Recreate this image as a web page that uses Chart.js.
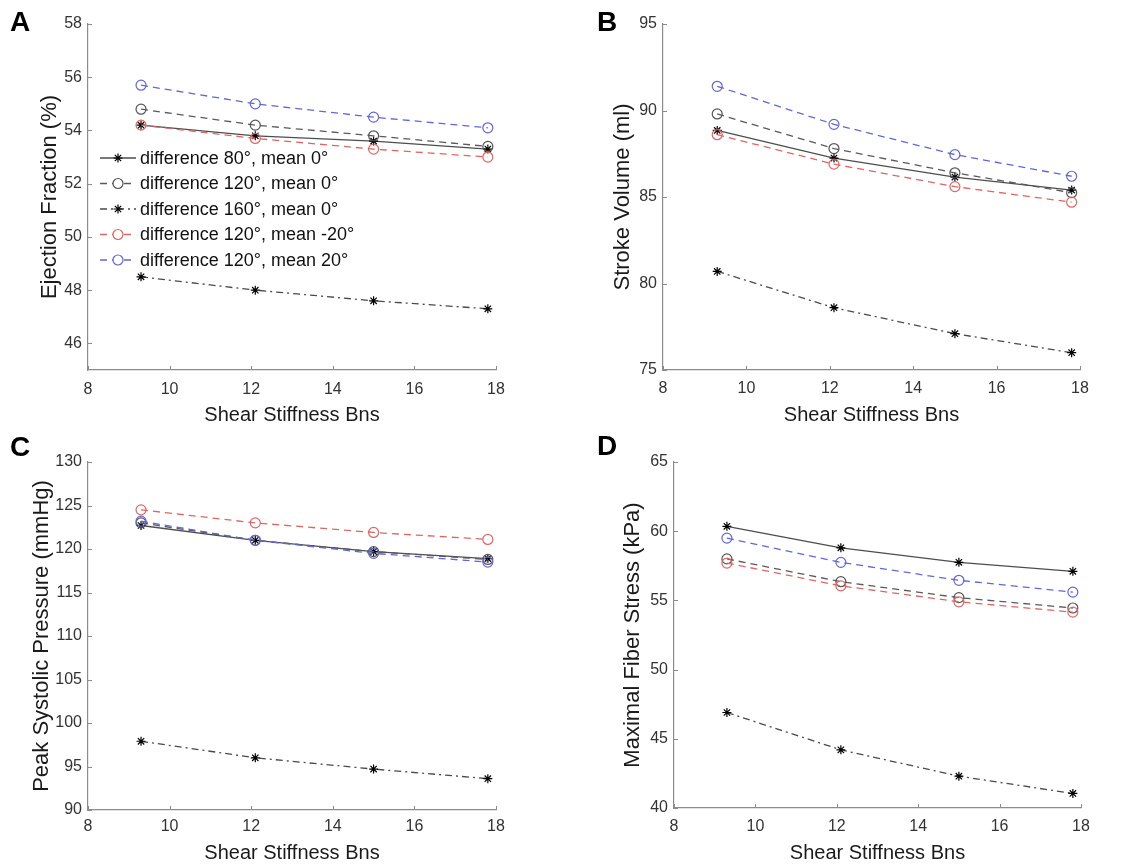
<!DOCTYPE html>
<html lang="en">

<head>
  <meta charset="UTF-8">
  <title>Shear Stiffness Bns</title>
  <script src="https://cdn.jsdelivr.net/npm/chart.js"></script>
  <style>
    body { margin: 0; background: #fff; }
    #figure { position: relative; width: 1147px; height: 866px; overflow: hidden; }
    #figure canvas { position: absolute; }
    .panel-letter {
      position: absolute;
      font: bold 28px "Liberation Sans", Arial, sans-serif;
      line-height: 28px;
      color: #000;
    }
  </style>
</head>

<body>
  <div id="figure">
    <canvas id="chartA" width="573" height="433" style="left:0;top:0"></canvas>
    <canvas id="chartB" width="574" height="433" style="left:573px;top:0"></canvas>
    <canvas id="chartC" width="573" height="433" style="left:0;top:433px"></canvas>
    <canvas id="chartD" width="574" height="433" style="left:573px;top:433px"></canvas>
    <div class="panel-letter" style="left:10px;top:8px">A</div>
    <div class="panel-letter" style="left:597px;top:8px">B</div>
    <div class="panel-letter" style="left:10px;top:433px">C</div>
    <div class="panel-letter" style="left:597px;top:432px">D</div>
  </div>

  <script>
    // shear stiffness values used in the simulations
    const stiffness = [9.3, 12.1, 15.0, 17.8];
    const xTicks = [8, 10, 12, 14, 16, 18];

    const seriesLabels = [
      'difference 80°, mean 0°',
      'difference 120°, mean 0°',
      'difference 160°, mean 0°',
      'difference 120°, mean -20°',
      'difference 120°, mean 20°'
    ];

    // A - ejection fraction (%)
    const efDiff80 = [54.2, 53.8, 53.6, 53.3];
    const efDiff120 = [54.8, 54.2, 53.8, 53.4];
    const efDiff160 = [48.5, 48.0, 47.6, 47.3];
    const efMeanNeg20 = [54.2, 53.7, 53.3, 53.0];
    const efMean20 = [55.7, 55.0, 54.5, 54.1];
    const efRange = [45, 58];
    const efTicks = [46, 48, 50, 52, 54, 56, 58];

    // B - stroke volume (ml)
    const svDiff80 = [88.85, 87.25, 86.15, 85.4];
    const svDiff120 = [89.8, 87.8, 86.4, 85.25];
    const svDiff160 = [80.7, 78.6, 77.1, 76.0];
    const svMeanNeg20 = [88.6, 86.9, 85.6, 84.7];
    const svMean20 = [91.4, 89.2, 87.45, 86.2];
    const svRange = [75, 95];
    const svTicks = [75, 80, 85, 90, 95];

    // C - peak systolic pressure (mmHg)
    const pspDiff80 = [122.7, 121.0, 119.7, 118.9];
    const pspDiff120 = [123.0, 121.0, 119.7, 118.8];
    const pspDiff160 = [97.9, 96.0, 94.7, 93.6];
    const pspMeanNeg20 = [124.5, 123.0, 121.9, 121.1];
    const pspMean20 = [123.2, 121.0, 119.5, 118.5];
    const pspRange = [90, 130];
    const pspTicks = [90, 95, 100, 105, 110, 115, 120, 125, 130];

    // D - maximal fiber stress (kPa)
    const mfsDiff80 = [60.35, 58.8, 57.75, 57.1];
    const mfsDiff120 = [58.0, 56.35, 55.2, 54.45];
    const mfsDiff160 = [46.9, 44.2, 42.3, 41.05];
    const mfsMeanNeg20 = [57.7, 56.05, 54.9, 54.15];
    const mfsMean20 = [59.5, 57.75, 56.45, 55.6];
    const mfsRange = [40, 65];
    const mfsTicks = [40, 45, 50, 55, 60, 65];

    const seriesStyles = [
      { line: '#4d4d4d', marker: '#000000', dash: [], point: 'star', radius: 4.5 },
      { line: '#5a5a5a', marker: '#555555', dash: [7, 5], point: 'circle', radius: 5 },
      { line: '#4a4a4a', marker: '#000000', dash: [7, 4, 2, 4], point: 'star', radius: 4.5 },
      { line: '#e06464', marker: '#e06464', dash: [7, 5], point: 'circle', radius: 5 },
      { line: '#6464dc', marker: '#6464dc', dash: [7, 5], point: 'circle', radius: 5 }
    ];

    const FONT = '"Liberation Sans", Arial, Helvetica, sans-serif';
    const AXIS_GREY = '#8c8c8c';
    const Y_TITLE_SIZE = 22;
    Chart.defaults.font.family = FONT;

    // small inward tick marks like the original plotting tool
    const innerTicks = {
      id: 'innerTicks',
      beforeDatasetsDraw(chart) {
        const { ctx, scales: { x, y } } = chart;
        ctx.save();
        ctx.strokeStyle = AXIS_GREY;
        ctx.lineWidth = 1;
        x.ticks.forEach(t => {
          const px = Math.round(x.getPixelForValue(t.value)) + 0.5;
          ctx.beginPath();
          ctx.moveTo(px, y.bottom);
          ctx.lineTo(px, y.bottom - 4);
          ctx.stroke();
        });
        y.ticks.forEach(t => {
          const py = Math.round(y.getPixelForValue(t.value)) + 0.5;
          ctx.beginPath();
          ctx.moveTo(x.left, py);
          ctx.lineTo(x.left + 4, py);
          ctx.stroke();
        });
        ctx.restore();
      }
    };

    // legend with line + marker samples, drawn inside the plot area
    const lineLegend = {
      id: 'lineLegend',
      afterDatasetsDraw(chart, args, opts) {
        if (!opts.show) return;
        const { ctx } = chart;
        ctx.save();
        chart.data.datasets.forEach((ds, i) => {
          const yy = opts.y + i * opts.rowGap;
          ctx.strokeStyle = ds.borderColor;
          ctx.lineWidth = ds.borderWidth;
          ctx.setLineDash(ds.borderDash || []);
          ctx.beginPath();
          ctx.moveTo(opts.x, yy);
          ctx.lineTo(opts.x + opts.sample, yy);
          ctx.stroke();
          ctx.setLineDash([]);
          ctx.strokeStyle = ds.pointBorderColor;
          ctx.fillStyle = '#fff';
          ctx.lineWidth = ds.pointBorderWidth;
          Chart.helpers.drawPoint(ctx, {
            pointStyle: ds.pointStyle,
            radius: ds.pointRadius,
            rotation: 0,
            borderWidth: ds.pointBorderWidth
          }, opts.x + opts.sample / 2, yy);
          ctx.fillStyle = '#111';
          ctx.font = '18px ' + FONT;
          ctx.textBaseline = 'middle';
          ctx.textAlign = 'left';
          ctx.fillText(ds.label, opts.x + opts.sample + 4, yy + 1);
        });
        ctx.restore();
      }
    };

    function makeDatasets(values) {
      return values.map((vals, i) => {
        const s = seriesStyles[i];
        return {
          label: seriesLabels[i],
          data: stiffness.map((xv, k) => ({ x: xv, y: vals[k] })),
          borderColor: s.line,
          borderWidth: 1.3,
          borderDash: s.dash,
          pointStyle: s.point,
          pointRadius: s.radius,
          pointBorderColor: s.marker,
          pointBackgroundColor: 'rgba(0,0,0,0)',
          pointBorderWidth: 1.2,
          tension: 0,
          fill: false,
          order: values.length - i
        };
      });
    }

    // box = page geometry of the panel (canvas box and plot box)
    function buildPanel(id, box, values, yTitle, yRange, yTicks, legend) {
      return new Chart(document.getElementById(id), {
        type: 'line',
        data: { datasets: makeDatasets(values) },
        plugins: [innerTicks, lineLegend],
        options: {
          responsive: false,
          animation: false,
          events: [],
          layout: {
            padding: {
              left: 0,
              top: box.plotTop - box.top,
              right: box.left + box.w - box.plotRight,
              bottom: 0
            }
          },
          plugins: {
            legend: { display: false },
            tooltip: { enabled: false },
            lineLegend: legend || { show: false }
          },
          scales: {
            x: {
              type: 'linear',
              min: xTicks[0],
              max: xTicks[xTicks.length - 1],
              afterBuildTicks: s => { s.ticks = xTicks.map(v => ({ value: v })); },
              afterFit: s => { s.height = box.top + box.h - box.plotBottom; },
              grid: { display: false, drawTicks: false },
              border: { display: true, color: AXIS_GREY, width: 1.2 },
              ticks: { color: '#333', font: { size: 16 }, padding: box.xLabelY - box.plotBottom - 9.6, maxRotation: 0 },
              title: {
                display: true,
                text: 'Shear Stiffness Bns',
                color: '#1a1a1a',
                font: { size: 20 },
                padding: { top: 0, bottom: box.top + box.h - box.xTitleY - 12 }
              }
            },
            y: {
              type: 'linear',
              min: yRange[0],
              max: yRange[1],
              afterBuildTicks: s => { s.ticks = yTicks.map(v => ({ value: v })); },
              afterFit: s => { s.width = box.plotLeft - box.left; },
              grid: { display: false, drawTicks: false },
              border: { display: true, color: AXIS_GREY, width: 1.2 },
              ticks: { color: '#333', font: { size: 16 }, padding: 6 },
              title: {
                display: true,
                text: yTitle,
                color: '#1a1a1a',
                font: { size: Y_TITLE_SIZE },
                padding: { top: box.yTitleX - box.left - Y_TITLE_SIZE * 0.6, bottom: 0 }
              }
            }
          }
        }
      });
    }

    const boxA = { left: 0, top: 0, w: 573, h: 433, plotLeft: 88, plotTop: 24, plotRight: 496, plotBottom: 370, yTitleX: 50, xLabelY: 390, xTitleY: 415 };
    const boxB = { left: 573, top: 0, w: 574, h: 433, plotLeft: 663, plotTop: 24, plotRight: 1080, plotBottom: 370, yTitleX: 623, xLabelY: 389, xTitleY: 415 };
    const boxC = { left: 0, top: 433, w: 573, h: 433, plotLeft: 88, plotTop: 462, plotRight: 496, plotBottom: 810, yTitleX: 42, xLabelY: 827, xTitleY: 853 };
    const boxD = { left: 573, top: 433, w: 574, h: 433, plotLeft: 674, plotTop: 462, plotRight: 1081, plotBottom: 808, yTitleX: 633, xLabelY: 827, xTitleY: 853 };

    buildPanel('chartA', boxA,
      [efDiff80, efDiff120, efDiff160, efMeanNeg20, efMean20],
      'Ejection Fraction (%)', efRange, efTicks,
      { show: true, x: 100, y: 158, rowGap: 25.5, sample: 36 });

    buildPanel('chartB', boxB,
      [svDiff80, svDiff120, svDiff160, svMeanNeg20, svMean20],
      'Stroke Volume (ml)', svRange, svTicks);

    buildPanel('chartC', boxC,
      [pspDiff80, pspDiff120, pspDiff160, pspMeanNeg20, pspMean20],
      'Peak Systolic Pressure (mmHg)', pspRange, pspTicks);

    buildPanel('chartD', boxD,
      [mfsDiff80, mfsDiff120, mfsDiff160, mfsMeanNeg20, mfsMean20],
      'Maximal Fiber Stress (kPa)', mfsRange, mfsTicks);
  </script>
</body>

</html>
